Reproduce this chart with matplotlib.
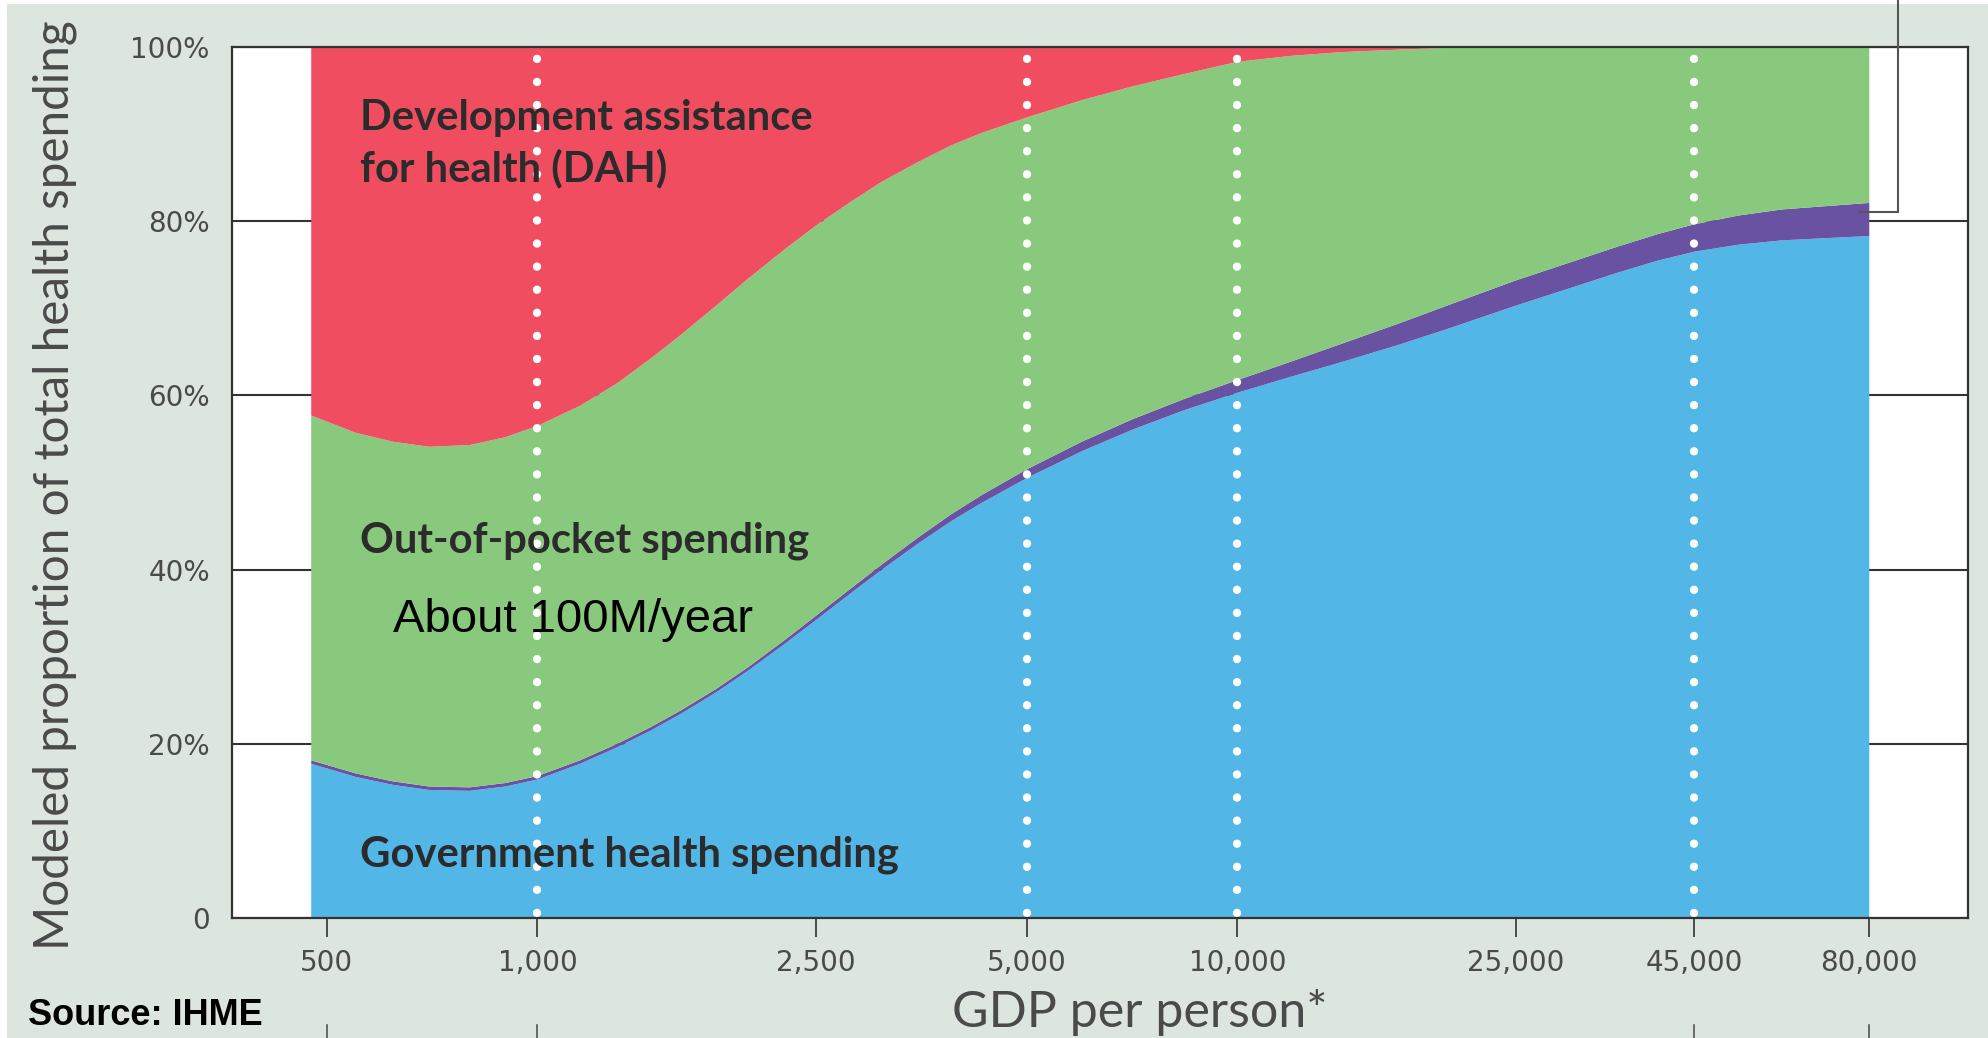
import numpy as np
import matplotlib
matplotlib.use("Agg")
import matplotlib.pyplot as plt
from matplotlib.patches import Rectangle
from matplotlib.ticker import FixedLocator, FixedFormatter, NullLocator

# ---- data (% of total health spending) ----
gdp = [475, 550, 620, 700, 800, 900, 1000, 1150, 1300, 1450, 1600, 1800, 2000,
       2250, 2500, 2800, 3100, 3500, 3900, 4300, 5000, 6000, 7100, 8400, 10000,
       12000, 14000, 17000, 20000, 25000, 35000, 40000, 45000, 52000, 60000,
       80000]
government = [17.7, 16.2, 15.3, 14.7, 14.6, 15.1, 15.9, 17.7, 19.6, 21.5, 23.4,
              25.9, 28.4, 31.4, 34.2, 37.25, 39.95, 43.0, 45.55, 47.6, 50.5,
              53.6, 56.1, 58.3, 60.3, 62.2, 63.75, 65.8, 67.65, 70.3, 74.1,
              75.5, 76.5, 77.3, 77.8, 78.3]
prepaid_private = [0.4, 0.4, 0.4, 0.4, 0.4, 0.4, 0.4, 0.4, 0.4, 0.4, 0.4, 0.4,
                   0.4, 0.45, 0.5, 0.55, 0.6, 0.7, 0.8, 0.9, 1.0, 1.1, 1.2,
                   1.3, 1.45, 1.75, 2.1, 2.45, 2.7, 2.9, 3.0, 3.05, 3.15, 3.35,
                   3.55, 3.8]
dah = [42.3, 44.3, 45.3, 45.9, 45.7, 44.8, 43.5, 41.2, 38.6, 35.8, 33.1, 29.7,
       26.6, 23.3, 20.5, 17.8, 15.5, 13.2, 11.3, 9.9, 8.1, 6.1, 4.5, 3.1, 1.7,
       1.0, 0.6, 0.3, 0.1, 0.0, 0.0, 0.0, 0.0, 0.0, 0.0, 0.0]
out_of_pocket = [round(100 - g - p - d, 2)
                 for g, p, d in zip(government, prepaid_private, dah)]

xticks = [500, 1000, 2500, 5000, 10000, 25000, 45000, 80000]
xtick_labels = ["500", "1,000", "2,500", "5,000", "10,000", "25,000", "45,000", "80,000"]
yticks = [0, 20, 40, 60, 80, 100]
ytick_labels = ["0", "20%", "40%", "60%", "80%", "100%"]
dotted_at = [1000, 5000, 10000, 45000]
stub_ticks = [500, 1000, 45000, 80000]

area_labels = [
    ("Development assistance", 557, 90.5),
    ("for health (DAH)", 557, 84.6),
    ("Out-of-pocket spending", 557, 42.0),
    ("Government health spending", 557, 5.9),
]

# ---- style ----
BG = "#dce6de"
C_GOV = "#52b6e7"
C_PRIV = "#6a52a3"
C_OOP = "#89c97d"
C_DAH = "#f04e60"
DARK = "#333333"
TXT = "#4a4a4a"

W, H = 1988, 1038
fig = plt.figure(figsize=(W / 100, H / 100), dpi=100, facecolor="white")
fig.patches.append(Rectangle((7 / W, 0), 1, (H - 4) / H, transform=fig.transFigure,
                             facecolor=BG, edgecolor="none", zorder=-10))

ax = fig.add_axes([232 / W, 1 - 918 / H, 1736 / W, 871 / H])
ax.set_facecolor("white")
ax.set_xscale("log")
ax.set_xlim(366, 110700)
ax.set_ylim(0, 100)

ax.stackplot(gdp, government, prepaid_private, out_of_pocket, dah,
             colors=[C_GOV, C_PRIV, C_OOP, C_DAH], linewidth=0, zorder=1,
             antialiased=True)

# gridlines (hidden behind the areas)
ax.set_axisbelow(True)
ax.yaxis.set_major_locator(FixedLocator(yticks))
ax.yaxis.set_major_formatter(FixedFormatter(ytick_labels))
ax.yaxis.grid(True, color=DARK, linewidth=1.5)
ax.tick_params(axis="y", length=0, pad=16, labelsize=20, labelcolor=TXT)

ax.xaxis.set_major_locator(FixedLocator(xticks))
ax.xaxis.set_major_formatter(FixedFormatter(xtick_labels))
ax.xaxis.set_minor_locator(NullLocator())
ax.tick_params(axis="x", direction="out", length=14, width=1.2, color=DARK,
               pad=8, labelsize=20, labelcolor=TXT)

for s in ax.spines.values():
    s.set_color(DARK)
    s.set_linewidth(1.6)
    s.set_zorder(5)

# white dotted guide lines
for xv in dotted_at:
    ax.plot([xv, xv], [0.6, 99.6], color="white", linewidth=6,
            linestyle=(0, (0.01, 2.76)), dash_capstyle="round", zorder=3)

# callout leader line at the top right
ax.plot([77600, 87900, 87900], [81.1, 81.1, 110], color="#555555",
        linewidth=1.5, clip_on=False, zorder=6)

# stub ticks of the element below
for xv in stub_ticks:
    ax.plot([xv, xv], [-12.3, -14.5], color="#555555", linewidth=1.2,
            clip_on=False)

renderer = fig.canvas.get_renderer()


def fit(t, target_px, vertical=False):
    bb = t.get_window_extent(renderer)
    size = bb.height if vertical else bb.width
    t.set_fontsize(t.get_fontsize() * target_px / size)


# area labels
texts = []
for txt, xv, yv in area_labels:
    t = ax.text(xv, yv, txt, fontsize=25, family=["Lato", "DejaVu Sans"],
                fontweight="bold", color="#2b2b2b", ha="left", va="baseline",
                zorder=4)
    texts.append(t)
fit(texts[3], 540)
for t in texts[:3]:
    t.set_fontsize(texts[3].get_fontsize())

ax.text(622, 32.8, "About 100M/year", fontsize=34,
        family=["Liberation Sans", "DejaVu Sans"], color="black",
        ha="left", va="baseline", zorder=4)

ylab = ax.set_ylabel("Modeled proportion of total health spending",
                     fontsize=32, family=["Lato", "DejaVu Sans"], color=TXT)
ylab.set_va("center")
ax.yaxis.set_label_coords((55 - 232) / 1736, (918 - 485) / 871)
fit(ylab, 930, vertical=True)

xlab = ax.set_xlabel("GDP per person*", fontsize=34,
                     family=["Lato", "DejaVu Sans"], color=TXT)
xlab.set_va("center")
ax.xaxis.set_label_coords((1140 - 232) / 1736, (918 - 1012) / 871)
fit(xlab, 377)

fig.text(28 / W, 1 - 1025 / H, "Source: IHME", fontsize=26, fontweight="bold",
         family=["Liberation Sans", "DejaVu Sans"], color="black",
         ha="left", va="baseline")

fig.savefig("out.png", dpi=100, facecolor=fig.get_facecolor())
